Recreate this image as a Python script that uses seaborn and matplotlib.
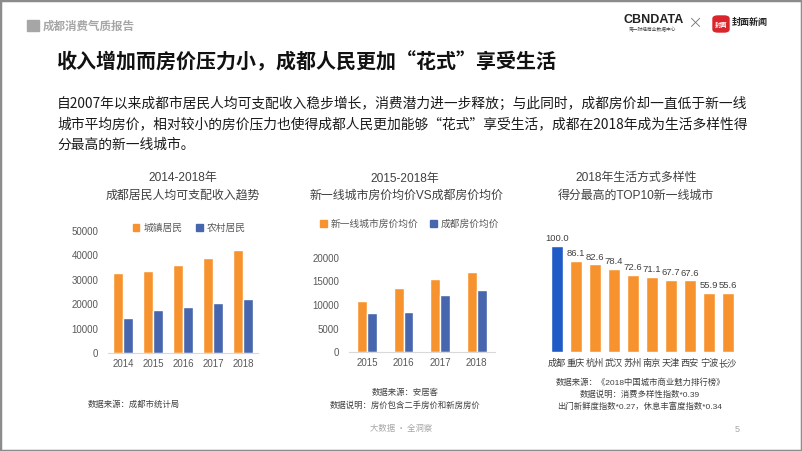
import matplotlib
matplotlib.use('Agg')
import matplotlib.pyplot as plt
from matplotlib.patches import Rectangle, FancyBboxPatch, Patch
import seaborn as sns
import pandas as pd

sns.set_theme(style='white')
# 图表内数字用 Arial 风格字体，中文回退到思源黑体
plt.rcParams['font.family'] = ['Liberation Sans', 'Noto Sans CJK SC', 'DejaVu Sans']
CJK = ['Noto Sans CJK SC', 'DejaVu Sans']

W, H = 802, 451
orange = '#F7932F'
blue = '#4766AE'
blue_cd = '#1E5BC6'
txt_gray = '#595959'

# 图1：成都居民人均可支配收入
income_years = ['2014', '2015', '2016', '2017', '2018']
income_urban = [32665, 33476, 35902, 38918, 42128]
income_rural = [14478, 17690, 18605, 20298, 22135]
income_series = ['城镇居民', '农村居民']

# 图2：房价均价
price_years = ['2015', '2016', '2017', '2018']
price_tier1 = [10780, 13660, 15560, 16900]
price_cd = [8240, 8590, 12040, 13240]
price_series = ['新一线城市房价均价', '成都房价均价']

# 图3：生活方式多样性得分
cities = ['成都', '重庆', '杭州', '武汉', '苏州', '南京', '天津', '西安', '宁波', '长沙']
scores = [100.0, 86.1, 82.6, 78.4, 72.6, 71.1, 67.7, 67.6, 55.9, 55.6]

fig = plt.figure(figsize=(W / 100, H / 100), dpi=100)


def fx(x):
    return x / W


def fy(y):
    return 1 - y / H


def box(x0, y0, x1, y1):
    # 像素坐标 -> figure 坐标
    return [fx(x0), fy(y1), (x1 - x0) / W, (y1 - y0) / H]


def style_ax(ax, show_y=True):
    sns.despine(ax=ax, left=True)
    ax.spines['bottom'].set_color('#D9D9D9')
    ax.spines['bottom'].set_linewidth(0.8)
    ax.tick_params(axis='both', length=0, colors=txt_gray, labelsize=7)
    ax.tick_params(axis='x', pad=4)
    ax.tick_params(axis='y', pad=7)
    ax.set_xlabel('')
    ax.set_ylabel('')
    if not show_y:
        ax.set_yticks([])


# 边框 + 页眉
fig.patches.append(Rectangle((0, 0), 1, 1, transform=fig.transFigure, fill=False,
                             edgecolor='#8C8C8C', linewidth=2.5))
fig.patches.append(Rectangle((fx(27), fy(31)), 12 / W, 11 / H, transform=fig.transFigure,
                             color='#A6A6A6'))
fig.text(fx(43), fy(26), '成都消费气质报告', fontsize=8.3, color='#A6A6A6', va='center',
         weight='bold', family=CJK)

fig.text(fx(624), fy(20), 'CBNDATA', fontsize=9, color='#222222', va='center', weight='bold')
fig.text(fx(653), fy(30), '第一财经商业数据中心', fontsize=3.4, color='#444444', va='center',
         ha='center', family=CJK)
fig.text(fx(695), fy(23), '×', fontsize=13, color='#777777', va='center', ha='center',
         family=['DejaVu Sans'], weight='light')
fig.patches.append(FancyBboxPatch((fx(713), fy(32)), 16 / W, 16 / H, transform=fig.transFigure,
                                  boxstyle='round,pad=0,rounding_size=0.006', color='#D9252B'))
fig.text(fx(721), fy(24), '封面', fontsize=4.5, color='white', va='center', ha='center',
         weight='bold', family=CJK)
fig.text(fx(732), fy(22), '封面新闻', fontsize=6.5, color='#222222', va='center', weight='bold',
         family=CJK)

# 标题与正文
fig.text(fx(57), fy(62), '收入增加而房价压力小，成都人民更加“花式”享受生活', fontsize=14.4,
         weight='bold', color='#111111', va='center', family=CJK)
para = ['自2007年以来成都市居民人均可支配收入稳步增长，消费潜力进一步释放；与此同时，成都房价却一直低于新一线',
        '城市平均房价，相对较小的房价压力也使得成都人民更加能够“花式”享受生活，成都在2018年成为生活多样性得',
        '分最高的新一线城市。']
for i, line in enumerate(para):
    fig.text(fx(57), fy(104 + i * 20.5), line, fontsize=9.9, color='#1A1A1A', va='center',
             family=CJK)

# ---- 图1 ----
df1 = pd.DataFrame({'年份': income_years * 2,
                    '收入': income_urban + income_rural,
                    '类型': [income_series[0]] * 5 + [income_series[1]] * 5})
ax1 = fig.add_axes(box(108, 230.7, 258, 353))
sns.barplot(data=df1, x='年份', y='收入', hue='类型', palette=[orange, blue],
            width=0.67, saturation=1, ax=ax1, legend=False)
ax1.set_xlim(-0.5, 4.5)
ax1.set_ylim(0, 50000)
ax1.set_yticks(range(0, 50001, 10000))
style_ax(ax1)
fig.text(fx(183), fy(178), '2014-2018年', fontsize=8.6, color='#404040', ha='center', va='center')
fig.text(fx(183), fy(196), '成都居民人均可支配收入趋势', fontsize=8.6, color='#404040', ha='center', va='center')
handles1 = [Patch(color=orange, label=income_series[0]), Patch(color=blue, label=income_series[1])]
fig.legend(handles=handles1, loc='center', bbox_to_anchor=(fx(189), fy(228)), ncol=2, frameon=False,
           fontsize=7, handlelength=0.7, handleheight=0.7, handletextpad=0.4, columnspacing=1.4,
           labelcolor=txt_gray)
fig.text(fx(88), fy(405), '数据来源：成都市统计局', fontsize=6, color='#404040', va='center')

# ---- 图2 ----
df2 = pd.DataFrame({'年份': price_years * 2,
                    '房价': price_tier1 + price_cd,
                    '类型': [price_series[0]] * 4 + [price_series[1]] * 4})
ax2 = fig.add_axes(box(348.7, 257.7, 495, 352.3))
sns.barplot(data=df2, x='年份', y='房价', hue='类型', palette=[orange, blue],
            width=0.54, saturation=1, ax=ax2, legend=False)
ax2.set_xlim(-0.5, 3.5)
ax2.set_ylim(0, 20000)
ax2.set_yticks(range(0, 20001, 5000))
style_ax(ax2)
fig.text(fx(405), fy(179), '2015-2018年', fontsize=8.6, color='#404040', ha='center', va='center')
fig.text(fx(407), fy(196), '新一线城市房价均价VS成都房价均价', fontsize=8.6, color='#404040',
         ha='center', va='center')
handles2 = [Patch(color=orange, label=price_series[0]), Patch(color=blue, label=price_series[1])]
fig.legend(handles=handles2, loc='center', bbox_to_anchor=(fx(410), fy(224)), ncol=2, frameon=False,
           fontsize=7, handlelength=0.7, handleheight=0.7, handletextpad=0.4, columnspacing=1.2,
           labelcolor=txt_gray)
fig.text(fx(405), fy(393), '数据来源：安居客', fontsize=6, color='#404040', ha='center', va='center')
fig.text(fx(405), fy(406), '数据说明：房价包含二手房价和新房房价', fontsize=6, color='#404040',
         ha='center', va='center')

# ---- 图3 ----
df3 = pd.DataFrame({'城市': cities, '得分': scores})
ax3 = fig.add_axes(box(547.5, 246, 737.5, 352))
sns.barplot(data=df3, x='城市', y='得分', hue='城市',
            palette=[blue_cd] + [orange] * (len(cities) - 1),
            width=0.6, saturation=1, ax=ax3, legend=False)
ax3.set_xlim(-0.5, 9.5)
ax3.set_ylim(0, 100)
style_ax(ax3, show_y=False)
ax3.spines['bottom'].set_visible(False)
ax3.tick_params(axis='x', labelsize=6.6, labelcolor='#404040', pad=5)
for c in ax3.containers:
    ax3.bar_label(c, fmt='%.1f', fontsize=6.8, color='#404040', padding=2)
fig.text(fx(636), fy(178), '2018年生活方式多样性', fontsize=8.6, color='#404040', ha='center', va='center')
fig.text(fx(636), fy(196), '得分最高的TOP10新一线城市', fontsize=8.6, color='#404040', ha='center', va='center')
fig.text(fx(640), fy(383), '数据来源：《2018中国城市商业魅力排行榜》', fontsize=6, color='#404040',
         ha='center', va='center')
fig.text(fx(640), fy(395), '数据说明：消费多样性指数*0.39', fontsize=6, color='#404040',
         ha='center', va='center')
fig.text(fx(640), fy(407), '出门新鲜度指数*0.27，休息丰富度指数*0.34', fontsize=6, color='#404040',
         ha='center', va='center')

# 页脚
fig.text(fx(401), fy(429), '大数据 · 全洞察', fontsize=6, color='#A6A6A6', ha='center', va='center',
         family=CJK)
fig.text(fx(737), fy(429), '5', fontsize=6.5, color='#A6A6A6', ha='center', va='center')

fig.savefig('out.png', dpi=100)
